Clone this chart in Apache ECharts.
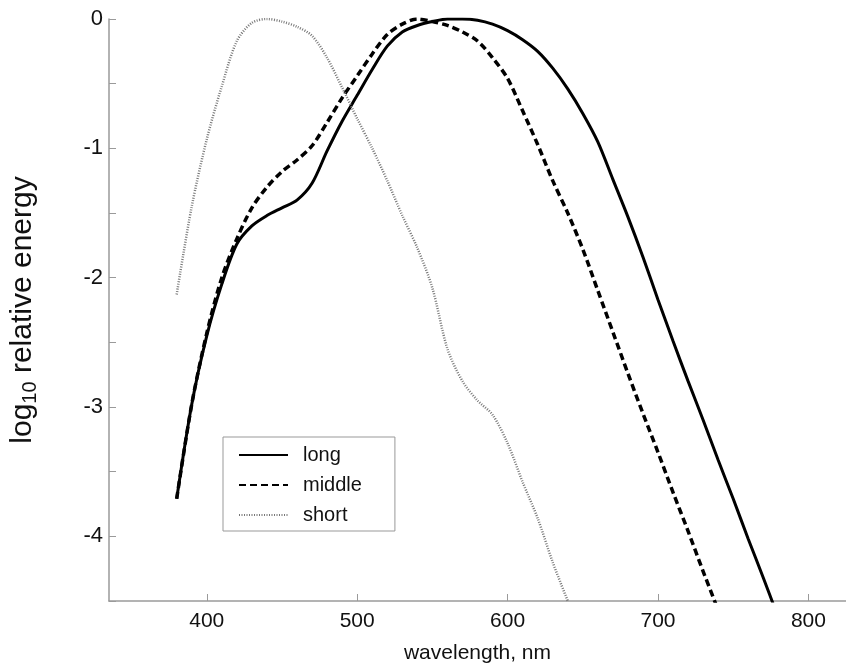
<!DOCTYPE html>
<html>
<head>
<meta charset="utf-8">
<script src="https://cdn.jsdelivr.net/npm/echarts@6/dist/echarts.min.js"></script>
<style>
  html, body { margin: 0; padding: 0; background: #fff; }
  #chart { width: 846px; height: 669px; }
</style>
</head>
<body>
<div id="chart"></div>
<script>
const wavelengths = [380, 390, 400, 410, 420, 430, 440, 450, 460, 470, 480, 490, 500,
  510, 520, 530, 540, 550, 560, 570, 580, 590, 600, 610, 620, 630, 640, 650, 660,
  670, 680, 690, 700, 710, 720, 730, 740, 750, 760, 770, 780];

const longCone = [-3.71, -2.98, -2.45, -2.05, -1.74, -1.60, -1.52, -1.46, -1.40, -1.27,
  -1.02, -0.79, -0.59, -0.39, -0.21, -0.10, -0.05, -0.02, 0, 0, -0.01, -0.04, -0.09,
  -0.16, -0.25, -0.38, -0.54, -0.73, -0.95, -1.24, -1.53, -1.84, -2.17, -2.49, -2.80,
  -3.10, -3.41, -3.71, -4.02, -4.32, -4.63];

const middleCone = [-3.71, -2.98, -2.43, -2.00, -1.70, -1.46, -1.30, -1.18, -1.09, -0.98,
  -0.80, -0.61, -0.44, -0.27, -0.12, -0.04, 0, -0.02, -0.05, -0.10, -0.17, -0.30, -0.46,
  -0.71, -0.97, -1.25, -1.50, -1.78, -2.10, -2.42, -2.74, -3.05, -3.35, -3.66, -3.96,
  -4.27, -4.57, null, null, null, null];

const shortCone = [-2.13, -1.45, -0.93, -0.52, -0.17, -0.03, 0, -0.02, -0.06, -0.13,
  -0.30, -0.53, -0.77, -1.00, -1.25, -1.52, -1.77, -2.08, -2.55, -2.80, -2.95, -3.06,
  -3.28, -3.58, -3.86, -4.20, -4.50, null, null, null, null, null, null, null, null,
  null, null, null, null, null, null];

const xTicks = [400, 500, 600, 700, 800];

function pairs(ys) {
  return wavelengths.map((x, i) => [x, ys[i]]).filter(p => p[1] !== null);
}

const chart = echarts.init(document.getElementById('chart'));

const axisGray = '#9a9a9a';
const font = 'Liberation Sans, Arial, sans-serif';

const option = {
  animation: false,
  textStyle: { fontFamily: font },
  grid: { left: 109, right: 0, top: 19, bottom: 68, outerBoundsMode: 'none' },
  legend: {
    orient: 'vertical',
    left: 223,
    top: 437,
    itemWidth: 49,
    itemHeight: 14,
    itemGap: 10,
    padding: [8, 33, 6, 15],
    borderColor: '#999',
    borderWidth: 1,
    itemStyle: { opacity: 0 },
    textStyle: { fontSize: 20, color: '#111', padding: [0, 0, 0, 10] },
    data: ['long', 'middle', 'short']
  },
  xAxis: {
    type: 'value',
    min: 335,
    max: 825,
    name: 'wavelength, nm',
    nameLocation: 'middle',
    nameGap: 42,
    nameTextStyle: { fontSize: 21, color: '#111' },
    splitLine: { show: false },
    axisLine: { onZero: false, lineStyle: { color: axisGray, width: 1.5 } },
    axisTick: { inside: true, length: 7, customValues: xTicks, lineStyle: { color: axisGray } },
    axisLabel: { fontSize: 21, color: '#111', margin: 10, customValues: xTicks }
  },
  yAxis: {
    type: 'value',
    min: -4.5,
    max: 0,
    interval: 0.5,
    name: '{a|log}{sub|10}{a| relative energy}',
    nameLocation: 'middle',
    nameGap: 69,
    nameRotate: 90,
    nameTextStyle: {
      rich: {
        a: { fontSize: 30, color: '#111', fontFamily: font },
        sub: { fontSize: 20, color: '#111', fontFamily: font, padding: [15, 0, 0, 0] }
      }
    },
    splitLine: { show: false },
    axisLine: { show: true, onZero: false, lineStyle: { color: axisGray, width: 1.5 } },
    axisTick: { inside: true, length: 7, lineStyle: { color: axisGray } },
    axisLabel: {
      fontSize: 22, color: '#111', margin: 6,
      formatter: v => (Number.isInteger(v) ? String(v) : '')
    }
  },
  series: [
    {
      name: 'long', type: 'line', data: pairs(longCone), smooth: 0.3,
      symbol: 'none', color: '#000',
      lineStyle: { color: '#000', width: 3 }
    },
    {
      name: 'middle', type: 'line', data: pairs(middleCone), smooth: 0.3,
      symbol: 'none', color: '#000',
      lineStyle: { color: '#000', width: 3.5, type: [7, 4] }
    },
    {
      name: 'short', type: 'line', data: pairs(shortCone), smooth: 0.3,
      symbol: 'none', color: '#777',
      lineStyle: { color: '#777', width: 2.5, type: [1, 1.5] }
    }
  ]
};

chart.setOption(option);
</script>
</body>
</html>
